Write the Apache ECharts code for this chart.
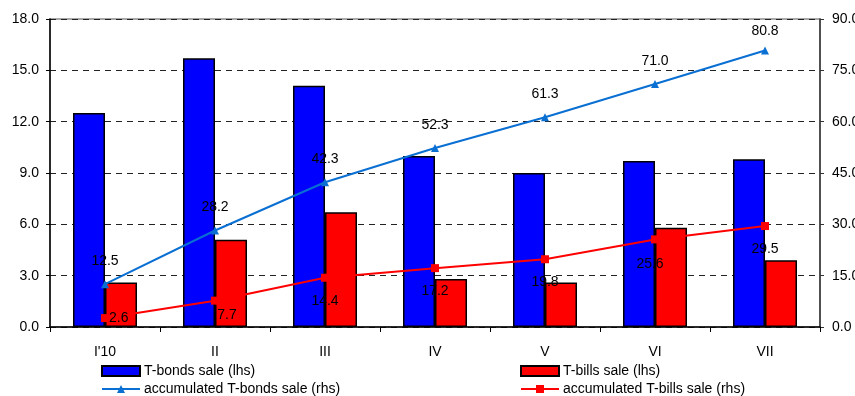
<!DOCTYPE html>
<html>
<head>
<meta charset="utf-8">
<script src="https://cdn.jsdelivr.net/npm/echarts@6/dist/echarts.min.js"></script>
<style>
  html, body { margin: 0; padding: 0; background: #fff; }
  #chart { width: 855px; height: 396px; }
</style>
</head>
<body>
<div id="chart"></div>
<script>
// Monthly sales of T-bonds and T-bills (lhs) with accumulated totals (rhs)
const categories = ["I'10", "II", "III", "IV", "V", "VI", "VII"];
const bondsSale = [12.5, 15.7, 14.1, 10.0, 9.0, 9.7, 9.8];
const billsSale = [2.6, 5.1, 6.7, 2.8, 2.6, 5.8, 3.9];
const bondsAccum = [12.5, 28.2, 42.3, 52.3, 61.3, 71.0, 80.8];
const billsAccum = [2.6, 7.7, 14.4, 17.2, 19.8, 25.6, 29.5];
const leftTicks = { min: 0, max: 18, interval: 3 };
const rightTicks = { min: 0, max: 90, interval: 15 };

const FONT = '"Liberation Sans", Arial, sans-serif';
const fmt1 = v => Number(v).toFixed(1);

// per-point label placement for the accumulated T-bills line
const billsLabelPlacement = [
  { position: 'right', distance: 0 },
  { position: 'inside', offset: [12, 14] },
  null, null, null,
  { position: 'bottom', distance: 14, offset: [-5, 0] },
  null
];
const billsAccumData = billsAccum.map((v, i) => {
  const p = billsLabelPlacement[i];
  return p ? { value: v, label: p } : v;
});

// the last T-bonds total sits a little closer to its marker
const bondsAccumData = bondsAccum.map((v, i) =>
  i === bondsAccum.length - 1 ? { value: v, label: { distance: 8 } } : v
);

// one legend block per entry, laid out in two rows of two
function legendEntry(name, left, top, icon) {
  return {
    left: left, top: top, orient: 'horizontal',
    itemWidth: 38, itemHeight: 10, itemGap: 0, padding: 0,
    textStyle: { fontFamily: FONT, fontSize: 14, color: '#000', padding: [0, 0, 0, -1] },
    data: [icon ? { name: name, icon: icon } : name]
  };
}

const chart = echarts.init(document.getElementById('chart'), null, { renderer: 'canvas' });
chart.setOption({
  animation: false,
  backgroundColor: '#fff',
  textStyle: { fontFamily: FONT },
  grid: {
    left: 50, right: 35, top: 19, bottom: 69,
    containLabel: false, outerBoundsMode: 'none',
    show: true, borderColor: '#8c8c8c', borderWidth: 1.5, backgroundColor: 'transparent'
  },
  legend: [
    legendEntry('T-bonds sale (lhs)', 101, 364, 'rect'),
    legendEntry('accumulated T-bonds sale (rhs)', 101, 382),
    legendEntry('T-bills sale (lhs)', 520, 364, 'rect'),
    legendEntry('accumulated T-bills sale (rhs)', 520, 382)
  ],
  xAxis: {
    type: 'category',
    data: categories,
    axisLine: { lineStyle: { color: '#000', width: 1.5 } },
    axisTick: { show: true, length: 5, lineStyle: { color: '#000' } },
    axisLabel: { color: '#000', fontSize: 14, fontFamily: FONT, margin: 18 }
  },
  yAxis: [
    {
      type: 'value',
      min: leftTicks.min, max: leftTicks.max, interval: leftTicks.interval,
      axisLine: { show: true, lineStyle: { color: '#000', width: 1.5 } },
      axisTick: { show: true, length: 4, lineStyle: { color: '#000' } },
      axisLabel: { color: '#000', fontSize: 14, fontFamily: FONT, margin: 11, formatter: fmt1 },
      splitLine: { show: true, lineStyle: { color: '#222', type: [6, 5], width: 1 } }
    },
    {
      type: 'value',
      min: rightTicks.min, max: rightTicks.max, interval: rightTicks.interval,
      axisLine: { show: true, lineStyle: { color: '#333', width: 1.5 } },
      axisTick: { show: true, length: 4, lineStyle: { color: '#333' } },
      axisLabel: { color: '#000', fontSize: 14, fontFamily: FONT, margin: 12, formatter: fmt1 },
      splitLine: { show: false }
    }
  ],
  series: [
    {
      name: 'T-bonds sale (lhs)', type: 'bar', yAxisIndex: 0,
      data: bondsSale, barWidth: 32, barGap: '0%',
      itemStyle: { color: '#0000ff', borderColor: '#000', borderWidth: 1.5 }
    },
    {
      name: 'T-bills sale (lhs)', type: 'bar', yAxisIndex: 0,
      data: billsSale, barWidth: 32, barGap: '0%',
      itemStyle: { color: '#ff0000', borderColor: '#000', borderWidth: 1.5 }
    },
    {
      name: 'accumulated T-bonds sale (rhs)', type: 'line', yAxisIndex: 1,
      data: bondsAccumData, symbol: 'triangle', symbolSize: 8,
      lineStyle: { color: '#0a6fd2', width: 2 },
      itemStyle: { color: '#0a6fd2' },
      label: { show: true, position: 'top', distance: 12, color: '#000', fontSize: 14, fontFamily: FONT, formatter: p => fmt1(p.value) },
      z: 5
    },
    {
      name: 'accumulated T-bills sale (rhs)', type: 'line', yAxisIndex: 1,
      data: billsAccumData, symbol: 'rect', symbolSize: 8,
      lineStyle: { color: '#ff0000', width: 2 },
      itemStyle: { color: '#ff0000' },
      label: { show: true, position: 'bottom', distance: 12, color: '#000', fontSize: 14, fontFamily: FONT, formatter: p => fmt1(p.value) },
      z: 5
    }
  ]
});
</script>
</body>
</html>
